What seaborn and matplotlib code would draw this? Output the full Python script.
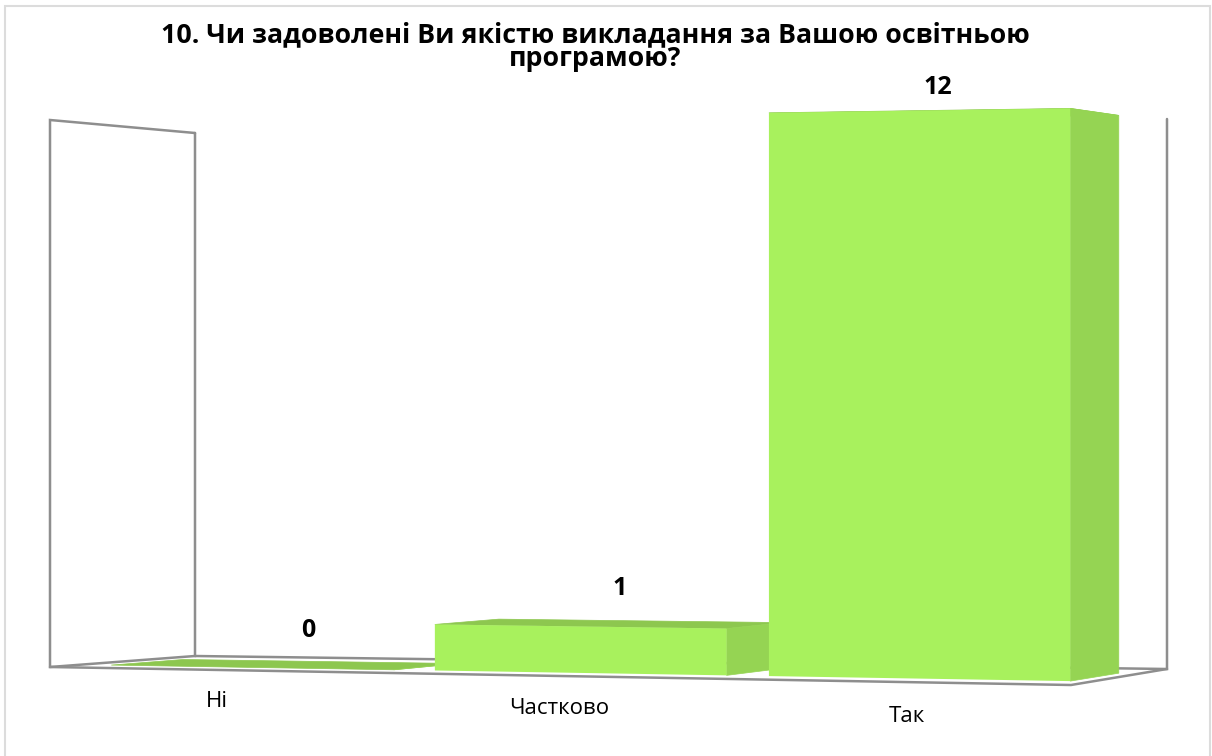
import matplotlib

matplotlib.use("Agg")
import matplotlib.pyplot as plt
import numpy as np
import seaborn as sns
from matplotlib.patches import Polygon, Rectangle
from matplotlib.transforms import IdentityTransform, Transform

# data
title = "10. Чи задоволені Ви якістю викладання за Вашою освітньою\nпрограмою?"
categories = ["Ні", "Частково", "Так"]
values = [0, 1, 12]

WIDTH, HEIGHT = 1212, 756
FRONT_COLOR = "#A8F15D"
SIDE_COLOR = "#95D453"
TOP_COLOR = "#8DC74F"
WALL_COLOR = "#8E8E8E"

# fake 3D box in pixels, y measured from the top of the image
FRONT_X = (50, 1071)
BACK_X = (195, 1167)
FRONT_BOTTOM = (667, 685)
BACK_BOTTOM = (656, 669)
FRONT_TOP = (120, 105)
BACK_TOP = (133, 119)
PERSPECTIVE = 1.05
BAR_DEPTH = (0.22, 0.72)

sns.set_theme(style="white")
plt.rcParams["font.family"] = ["Open Sans", "DejaVu Sans"]

fig = plt.figure(figsize=(WIDTH / 100, HEIGHT / 100), dpi=100)
ax = fig.add_axes([0, 0, 1, 1])
sns.barplot(x=categories, y=values, color=FRONT_COLOR, saturation=1, width=0.875, linewidth=0, ax=ax)
ax.set_xlim(-0.53, 2.5)
ax.set_ylim(0, 12)
ax.autoscale(False)
ax.set_axis_off()


def lerp(a, b, t):
    return a + (b - a) * t


def project(x, value, depth):
    """category position, value and depth (0 front, 1 back) to display pixels"""
    x = np.asarray(x, dtype=float)
    value = np.asarray(value, dtype=float)
    x0, x1 = ax.get_xlim()
    u = (x - x0) / (x1 - x0)
    s = u / (PERSPECTIVE + (1 - PERSPECTIVE) * u)
    v = value / ax.get_ylim()[1]
    px = lerp(lerp(*FRONT_X, s), lerp(*BACK_X, s), depth)
    bottom = lerp(lerp(*FRONT_BOTTOM, s), lerp(*BACK_BOTTOM, s), depth)
    top = lerp(lerp(*FRONT_TOP, s), lerp(*BACK_TOP, s), depth)
    return px, HEIGHT - lerp(bottom, top, v)


class BoxPlane(Transform):
    input_dims = 2
    output_dims = 2

    def __init__(self, plane_depth):
        super().__init__()
        self.plane_depth = plane_depth

    def transform_non_affine(self, values):
        px, py = project(values[:, 0], values[:, 1], self.plane_depth)
        return np.column_stack([px, py])


def face(corners, color, zorder):
    pts = [project(x, y, d) for x, y, d in corners]
    ax.add_patch(Polygon(pts, closed=True, facecolor=color, edgecolor=color, linewidth=0.5,
                         transform=IdentityTransform(), zorder=zorder))


def wall_line(corners):
    pts = np.array([project(x, y, d) for x, y, d in corners])
    ax.plot(pts[:, 0], pts[:, 1], color=WALL_COLOR, linewidth=1.8, transform=IdentityTransform(),
            solid_joinstyle="miter", zorder=1)


# walls and floor outline
x0, x1 = ax.get_xlim()
y1 = ax.get_ylim()[1]
wall_line([(x0, y1, 1), (x0, 0, 1), (x0, 0, 0), (x0, y1, 0), (x0, y1, 1)])
wall_line([(x0, 0, 1), (x1, 0, 1), (x1, y1, 1)])
wall_line([(x0, 0, 0), (x1, 0, 0), (x1, 0, 1)])

# seaborn's bars become the front faces, side and top faces are added around them
d0, d1 = BAR_DEPTH
for i, rect in enumerate(ax.patches[:len(values)]):
    left, right = rect.get_x(), rect.get_x() + rect.get_width()
    h = rect.get_height()
    base = 2 + i
    face([(left, h, d0), (right, h, d0), (right, h, d1), (left, h, d1)], TOP_COLOR, base)
    face([(right, 0, d0), (right, h, d0), (right, h, d1), (right, 0, d1)], SIDE_COLOR, base + 0.2)
    rect.set_transform(BoxPlane(d0))
    rect.set_zorder(base + 0.5)

# data labels sit above the middle of each bar, category labels below the floor edge
label_nudge = [(22, 34), (10, 35), (-7, 27)]
tick_nudge = [(-5, 31), (6, 33), (11, 35)]
for i, (cat, val) in enumerate(zip(categories, values)):
    lx, ly = project(i, val, 0.47)
    ax.text(lx + label_nudge[i][0], ly + label_nudge[i][1], str(val), ha="center", va="center",
            fontsize=18, fontweight="bold", color="black", transform=IdentityTransform(), zorder=10)
    tx, ty = project(i, 0, 0)
    ax.text(tx + tick_nudge[i][0], ty - tick_nudge[i][1], cat, ha="center", va="center", fontsize=16,
            color="black", transform=IdentityTransform(), zorder=10)

fig.text(595 / WIDTH, 1 - 47 / HEIGHT, title, ha="center", va="center", fontsize=19.3,
         fontweight="bold", color="black", linespacing=0.9)

# frame runs off the bottom of the image
fig.add_artist(Rectangle((5 / WIDTH, -0.02), 1205 / WIDTH, 1 - 6 / HEIGHT + 0.02, fill=False,
                         edgecolor="#DCDCDC", linewidth=1.5, transform=fig.transFigure))

fig.savefig("out.png", dpi=100)
plt.close(fig)
